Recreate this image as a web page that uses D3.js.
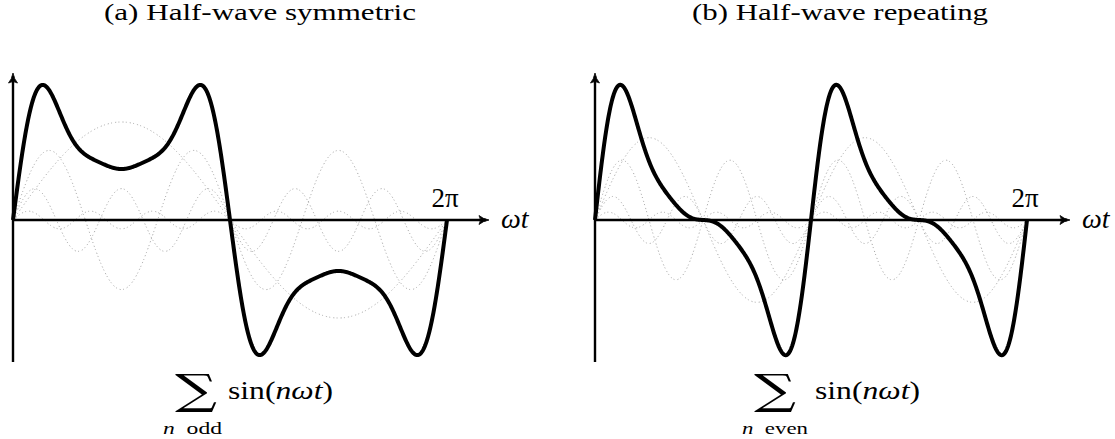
<!DOCTYPE html>
<html><head><meta charset="utf-8">
<script src="https://cdn.jsdelivr.net/npm/d3@7"></script>
<style>body{margin:0;background:#fff} svg{display:block}</style>
</head><body>
<svg id="chart" width="1115" height="439"></svg>
<script>
// Harmonic content of the two waveforms: relative amplitude of each sin(n·ωt) term
const oddHarmonics = [1, 3, 5, 7];
const oddAmplitudes = [1.0, 0.71, 0.32, 0.09];
const evenHarmonics = [2, 4, 6, 8];
const evenAmplitudes = [0.84, 0.61, 0.24, 0.08];

const panelTitles = ["(a) Half-wave symmetric", "(b) Half-wave repeating"];
const sumSubscriptWords = ["odd", "even"];
const periodLabel = "2π";
const axisLabel = "ωt";

const svg = d3.select("#chart");
const serif = "'Liberation Serif', 'DejaVu Serif', serif";

const yScale = d3.scaleLinear().domain([-1.5, 1.5]).range([367, 73]);

const panels = [
  { harmonics: oddHarmonics, amps: oddAmplitudes, x0: 13, x1: 447, arrowX: 489,
    title: panelTitles[0], titleX: 260, titleW: 312,
    sub: sumSubscriptWords[0], sigmaX: 175, sinX: 228, sinW: 105, subX: 163, subW: 59 },
  { harmonics: evenHarmonics, amps: evenAmplitudes, x0: 595, x1: 1027, arrowX: 1070,
    title: panelTitles[1], titleX: 840, titleW: 296,
    sub: sumSubscriptWords[1], sigmaX: 754, sinX: 815, sinW: 105, subX: 742, subW: 66 }
];

const samples = d3.range(0, 801).map(i => i / 800 * 2 * Math.PI);

panels.forEach(p => {
  const x = d3.scaleLinear().domain([0, 2 * Math.PI]).range([p.x0, p.x1]);
  const g = svg.append("g");

  // individual harmonic components (faint dotted grey)
  p.harmonics.forEach((n, i) => {
    const pts = samples.map(t => [t, p.amps[i] * Math.sin(n * t)]);
    g.append("path")
      .attr("d", d3.line().x(d => x(d[0])).y(d => yScale(d[1]))(pts))
      .attr("fill", "none")
      .attr("stroke", "#a8a8a8")
      .attr("stroke-width", 1)
      .attr("stroke-dasharray", "1,3,1.2,2.2");
  });

  // axes
  const yTop = yScale(1.5), yBot = 362, y0 = yScale(0);
  g.append("line").attr("x1", x(0)).attr("x2", x(0)).attr("y1", yTop + 3).attr("y2", yBot)
    .attr("stroke", "#000").attr("stroke-width", 2.4);
  g.append("line").attr("x1", x(0)).attr("x2", p.arrowX - 3).attr("y1", y0).attr("y2", y0)
    .attr("stroke", "#000").attr("stroke-width", 2.6);
  const ax = x(0);
  g.append("path")
    .attr("d", `M${ax},${yTop} Q${ax + 1},${yTop + 6} ${ax + 4.5},${yTop + 10} Q${ax},${yTop + 7} ${ax - 4.5},${yTop + 10} Q${ax - 1},${yTop + 6} ${ax},${yTop} Z`)
    .attr("fill", "#000").attr("stroke", "#000").attr("stroke-width", 0.8);
  const tx = p.arrowX;
  g.append("path")
    .attr("d", `M${tx},${y0} Q${tx - 6},${y0 + 1} ${tx - 10},${y0 + 4.5} Q${tx - 7},${y0} ${tx - 10},${y0 - 4.5} Q${tx - 6},${y0 - 1} ${tx},${y0} Z`)
    .attr("fill", "#000").attr("stroke", "#000").attr("stroke-width", 0.8);

  // summed waveform
  const sumPts = samples.map(t => [t, d3.sum(p.harmonics, (n, i) => p.amps[i] * Math.sin(n * t))]);
  g.append("path")
    .attr("d", d3.line().x(d => x(d[0])).y(d => yScale(d[1]))(sumPts))
    .attr("fill", "none")
    .attr("stroke", "#000")
    .attr("stroke-width", 4)
    .attr("stroke-linejoin", "round")
    .attr("stroke-linecap", "butt");

  // labels
  g.append("text").attr("x", x(2 * Math.PI) - 2).attr("y", 207)
    .attr("text-anchor", "middle").attr("font-family", serif).attr("font-size", 27)
    .text(periodLabel);
  g.append("text").attr("x", p.arrowX + 12).attr("y", 228)
    .attr("font-family", serif).attr("font-style", "italic").attr("font-size", 28)
    .text(axisLabel);

  g.append("text").attr("x", p.titleX).attr("y", 20)
    .attr("text-anchor", "middle").attr("font-family", serif).attr("font-size", 23)
    .attr("textLength", p.titleW).attr("lengthAdjust", "spacingAndGlyphs")
    .text(p.title);

  g.append("text").attr("x", p.sigmaX).attr("y", 404)
    .attr("font-family", "'DejaVu Serif', serif").attr("font-size", 42)
    .attr("textLength", 42).attr("lengthAdjust", "spacingAndGlyphs")
    .text("∑");
  const sinT = g.append("text").attr("x", p.sinX).attr("y", 399)
    .attr("font-family", serif).attr("font-size", 26)
    .attr("textLength", p.sinW).attr("lengthAdjust", "spacingAndGlyphs");
  sinT.append("tspan").text("sin(");
  sinT.append("tspan").attr("font-style", "italic").text("nωt");
  sinT.append("tspan").text(")");

  const subT = g.append("text").attr("x", p.subX).attr("y", 434)
    .attr("font-family", serif).attr("font-size", 17)
    .attr("textLength", p.subW).attr("lengthAdjust", "spacingAndGlyphs");
  subT.append("tspan").attr("font-style", "italic").text("n");
  subT.append("tspan").text("\u2002" + p.sub);
});
</script>
</body></html>
